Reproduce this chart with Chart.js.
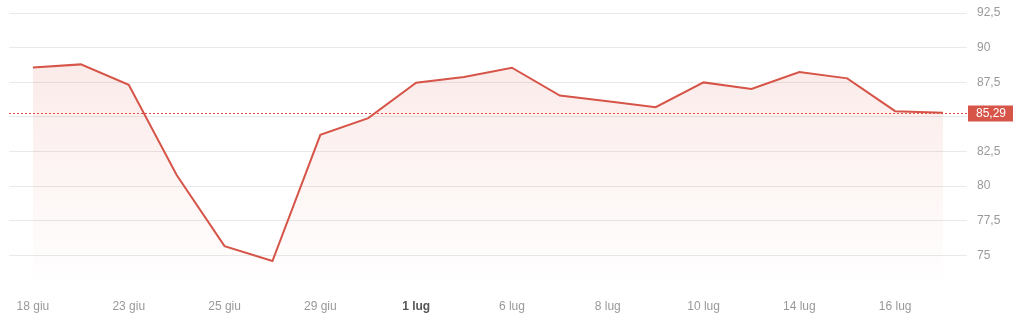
<!DOCTYPE html>
<html>
<head>
<meta charset="utf-8">
<script src="https://cdn.jsdelivr.net/npm/chart.js@4/dist/chart.umd.min.js"></script>
<style>
html,body{margin:0;padding:0;background:#fff;}
#wrap{width:1024px;height:325px;position:relative;}
</style>
</head>
<body>
<div id="wrap"><canvas id="c" width="1024" height="325"></canvas></div>
<script>
const categories = ["18 giu","20 giu","23 giu","24 giu","25 giu","26 giu","29 giu","30 giu","1 lug","2 lug","6 lug","7 lug","8 lug","9 lug","10 lug","13 lug","14 lug","15 lug","16 lug","17 lug"];
const tickLabels = ["18 giu","","23 giu","","25 giu","","29 giu","","1 lug","","6 lug","","8 lug","","10 lug","","14 lug","","16 lug",""];
const prices = [88.57,88.79,87.32,80.80,75.67,74.59,83.70,84.91,87.46,87.88,88.55,86.54,86.12,85.70,87.49,87.01,88.24,87.78,85.41,85.29];
const lastPrice = 85.29;
const yTicks = [75,77.5,80,82.5,85,87.5,90,92.5];

const RED = 'rgb(214,84,72)';
const fmt = v => String(v).replace('.', ',');

const lastLine = {
  id: 'lastLine',
  afterDatasetsDraw(chart) {
    const {ctx, chartArea, scales} = chart;
    const y = Math.round(scales.y.getPixelForValue(lastPrice)) + 0.5;
    ctx.save();
    ctx.strokeStyle = RED;
    ctx.lineWidth = 1;
    ctx.setLineDash([2, 2]);
    ctx.beginPath();
    ctx.moveTo(chartArea.left, y);
    ctx.lineTo(chartArea.right, y);
    ctx.stroke();
    ctx.setLineDash([]);
    ctx.fillStyle = RED;
    ctx.fillRect(chartArea.right + 1, y - 8, 45, 16);
    ctx.fillStyle = '#fff';
    ctx.font = '12px "Liberation Sans", Arial, sans-serif';
    ctx.textBaseline = 'middle';
    ctx.textAlign = 'left';
    ctx.fillText(fmt(lastPrice.toFixed(2)), chartArea.right + 9, y + 0.5);
    ctx.restore();
  }
};

new Chart(document.getElementById('c'), {
  type: 'line',
  data: {
    labels: categories,
    datasets: [{
      data: prices,
      borderColor: RED,
      borderWidth: 2,
      pointRadius: 0,
      tension: 0,
      fill: 'start',
      backgroundColor(ctx) {
        const ca = ctx.chart.chartArea;
        if (!ca) return 'rgba(214,84,72,0.1)';
        const g = ctx.chart.ctx.createLinearGradient(0, ca.top, 0, ca.bottom);
        g.addColorStop(0, 'rgba(220,90,75,0.15)');
        g.addColorStop(1, 'rgba(220,90,75,0.0)');
        return g;
      }
    }]
  },
  options: {
    responsive: false,
    animation: false,
    layout: {padding: {top: 13, left: 9, right: 0, bottom: 0}},
    plugins: {legend: {display: false}, tooltip: {enabled: false}},
    scales: {
      x: {
        offset: true,
        grid: {display: false, drawTicks: false},
        border: {display: false},
        ticks: {
          autoSkip: false,
          maxRotation: 0,
          padding: 9,
          color(c) { return tickLabels[c.index] === '1 lug' ? '#555' : '#999'; },
          font(c) { return {family: '"Liberation Sans", Arial, sans-serif', size: 12, weight: tickLabels[c.index] === '1 lug' ? 'bold' : 'normal'}; },
          callback(v, i) { return tickLabels[i]; }
        },
        afterFit(s) { s.height = 35; }
      },
      y: {
        position: 'right',
        min: 72.5,
        max: 92.5,
        afterBuildTicks(s) { s.ticks = [72.5].concat(yTicks).map(v => ({value: v})); },
        grid: {
          drawTicks: false,
          color(c) { return c.tick && c.tick.value === 72.5 ? 'rgba(0,0,0,0)' : '#e9e9e9'; }
        },
        border: {display: false},
        ticks: {
          padding: 10,
          color: '#999',
          font: {family: '"Liberation Sans", Arial, sans-serif', size: 12},
          callback(v) { return v === 72.5 ? '' : fmt(v); }
        },
        afterFit(s) { s.width = 57; s.paddingTop = 0; }
      }
    }
  },
  plugins: [lastLine, {
    id: 'fixArea',
    afterLayout(chart) {
      // nothing: layout left to the library
    }
  }]
});
</script>
</body>
</html>
